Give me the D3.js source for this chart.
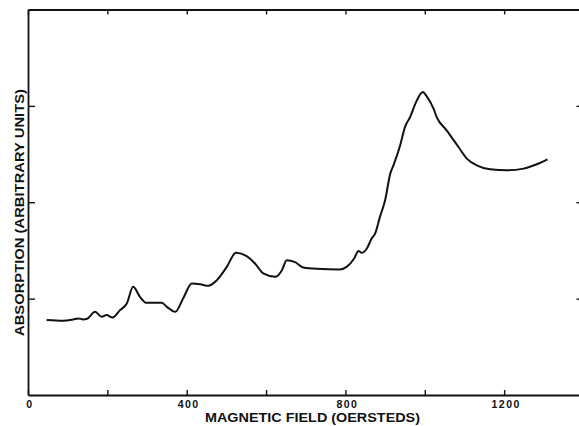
<!DOCTYPE html>
<html>
<head>
<meta charset="utf-8">
<script src="https://cdn.jsdelivr.net/npm/d3@7"></script>
<style>
  html, body { margin: 0; padding: 0; background: #fff; }
  svg { display: block; }
  text { font-family: "Liberation Sans", Arial, sans-serif; fill: #111; }
</style>
</head>
<body>
<script>
// Absorption vs. magnetic field trace
const fieldOe = [47, 89, 114, 127, 139, 149, 169, 186, 198, 213, 232, 249, 265, 282, 299, 337, 350, 371, 391, 413,
  434, 454, 476, 501, 524, 551, 572, 593, 623, 640, 652, 673, 694, 728, 786, 803, 822, 833, 841, 854,
  866, 875, 887, 900, 913, 921, 938, 950, 963, 980, 995, 1005, 1022, 1030, 1055, 1085, 1106, 1131, 1165, 1207,
  1249, 1282, 1309];
const absorption = [0.777, 0.770, 0.784, 0.795, 0.784, 0.791, 0.863, 0.811, 0.829, 0.805, 0.881, 0.950, 1.122, 1.019, 0.956, 0.956, 0.915, 0.863, 1.002, 1.158,
  1.150, 1.133, 1.192, 1.330, 1.475, 1.440, 1.365, 1.261, 1.226, 1.295, 1.399, 1.378, 1.323, 1.309, 1.303, 1.330, 1.417, 1.495, 1.475, 1.520,
  1.624, 1.676, 1.848, 2.021, 2.297, 2.383, 2.591, 2.780, 2.884, 3.057, 3.143, 3.098, 2.971, 2.884, 2.746, 2.573, 2.453, 2.383, 2.342, 2.332,
  2.349, 2.394, 2.446];
const xTickValues = [0, 200, 400, 600, 800, 1000, 1200, 1400];
const xTickLabels = {0: "0", 400: "400", 800: "800", 1200: "1200"};
const yTickValues = [1, 2, 3];

const W = 579, H = 426;
const margin = {left: 28, top: 9.5, right: -4.5, bottom: 31};

const svg = d3.select("body").append("svg").attr("width", W).attr("height", H);

const x = d3.scaleLinear().domain([0, 1400]).range([margin.left, W - margin.right]);
const y = d3.scaleLinear().domain([0, 4]).range([H - margin.bottom, margin.top]);

const axisStyle = g => {
  g.select(".domain").attr("stroke", "#111").attr("stroke-width", 1.8);
  g.selectAll(".tick line").attr("stroke", "#111").attr("stroke-width", 1.4);
};

// bottom axis with inward ticks
svg.append("g")
  .attr("transform", `translate(0,${y(0)})`)
  .call(d3.axisBottom(x).tickValues(xTickValues).tickSize(-5).tickSizeOuter(0).tickFormat(""))
  .call(axisStyle);

// top axis
svg.append("g")
  .attr("transform", `translate(0,${y(4)})`)
  .call(d3.axisTop(x).tickValues(xTickValues).tickSize(-5).tickSizeOuter(0).tickFormat(""))
  .call(axisStyle);

// left axis
svg.append("g")
  .attr("transform", `translate(${x(0)},0)`)
  .call(d3.axisLeft(y).tickValues(yTickValues).tickSize(-7).tickSizeOuter(0).tickFormat(""))
  .call(axisStyle);

// right axis
svg.append("g")
  .attr("transform", `translate(${x(1400)},0)`)
  .call(d3.axisRight(y).tickValues(yTickValues).tickSize(-7).tickSizeOuter(0).tickFormat(""))
  .call(axisStyle);

// x tick labels
svg.append("g").selectAll("text")
  .data(Object.keys(xTickLabels).map(Number))
  .join("text")
  .attr("x", d => x(d) + 2)
  .attr("y", y(0) + 12.5)
  .attr("text-anchor", "middle")
  .attr("font-size", 10.5)
  .attr("font-weight", "bold")
  .attr("letter-spacing", 1.5)
  .text(d => xTickLabels[d]);

// axis titles
svg.append("text")
  .attr("x", 312.5)
  .attr("y", 422)
  .attr("text-anchor", "middle")
  .attr("font-size", 13.5)
  .attr("font-weight", "bold")
  .attr("textLength", 215)
  .attr("lengthAdjust", "spacingAndGlyphs")
  .text("MAGNETIC FIELD (OERSTEDS)");

svg.append("text")
  .attr("transform", "translate(24,212.5) rotate(-90)")
  .attr("text-anchor", "middle")
  .attr("font-size", 13)
  .attr("font-weight", "bold")
  .attr("textLength", 247)
  .attr("lengthAdjust", "spacingAndGlyphs")
  .text("ABSORPTION (ARBITRARY UNITS)");

// absorption curve
const line = d3.line()
  .x((d, i) => x(fieldOe[i]))
  .y(d => y(d))
  .curve(d3.curveMonotoneX);

svg.append("path")
  .datum(absorption)
  .attr("fill", "none")
  .attr("stroke", "#111")
  .attr("stroke-width", 2)
  .attr("stroke-linejoin", "round")
  .attr("d", line);
</script>
</body>
</html>
